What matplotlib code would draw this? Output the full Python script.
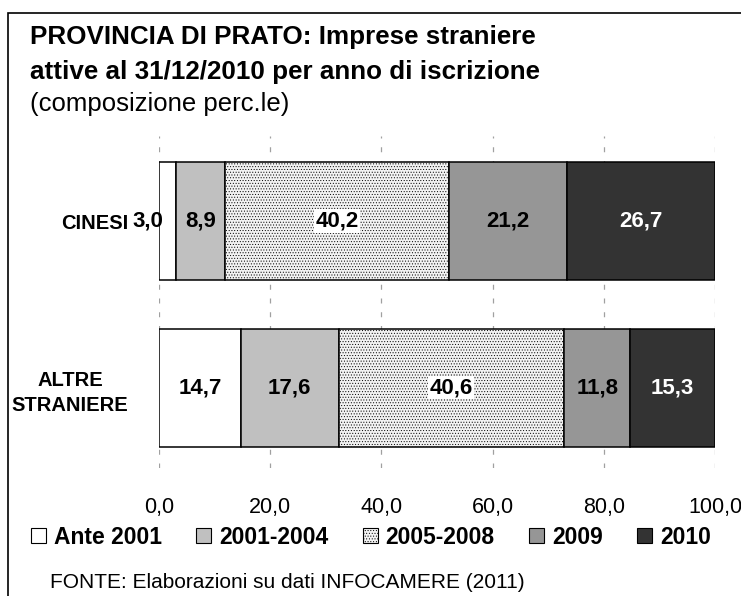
import matplotlib
matplotlib.use("Agg")
import matplotlib.pyplot as plt
from matplotlib.patches import Rectangle, Patch
import numpy as np

plt.rcParams['font.family'] = ['Liberation Sans', 'DejaVu Sans']
plt.rcParams['hatch.color'] = '#c4c4c4'
plt.rcParams['hatch.linewidth'] = 0.4

categories = ["CINESI", "ALTRE\nSTRANIERE"]
series_names = ["Ante 2001", "2001-2004", "2005-2008", "2009", "2010"]
cinesi = [3.0, 8.9, 40.2, 21.2, 26.7]
altre = [14.7, 17.6, 40.6, 11.8, 15.3]
xticks = [0, 20, 40, 60, 80, 100]
xtick_labels = ["0,0", "20,0", "40,0", "60,0", "80,0", "100,0"]

colors = ["#FFFFFF", "#C0C0C0", "#F2F2F2", "#969696", "#333333"]
hatches = [None, None, "......", None, None]
text_colors = ["black", "black", "black", "black", "white"]

W, H = 741, 596
fig = plt.figure(figsize=(W / 100, H / 100), dpi=100)
ax = fig.add_axes([159 / W, (H - 468) / H, 556 / W, 332 / H])

values = np.array([cinesi, altre])
ypos = np.arange(len(categories))
left = np.zeros(len(categories))
bar_h = 0.709
for i, name in enumerate(series_names):
    bars = ax.barh(ypos, values[:, i], left=left, height=bar_h, color=colors[i],
                   edgecolor="black", linewidth=1.1, hatch=hatches[i], label=name, zorder=3)
    for j, b in enumerate(bars):
        v = values[j, i]
        cx = left[j] + v / 2
        lbl = f"{v:.1f}".replace(".", ",")
        bbox = dict(facecolor="white", edgecolor="none", pad=1) if i == 2 else None
        if v < 5:
            ax.annotate(lbl, (left[j], ypos[j]), xytext=(4, 0), textcoords="offset pixels",
                        ha="right", va="center", fontsize=16, fontweight="bold",
                        color=text_colors[i], zorder=5)
        else:
            ax.text(cx, ypos[j], lbl, ha="center", va="center", fontsize=16,
                    fontweight="bold", color=text_colors[i], bbox=bbox, zorder=5)
    left = left + values[:, i]

ax.set_xlim(0, 100)
ax.set_ylim(1.483, -0.511)
ax.set_xticks(xticks)
ax.set_xticklabels(xtick_labels, fontsize=15.5)
ax.set_yticks(ypos)
ax.set_yticklabels(categories, fontsize=14.5, fontweight="bold", multialignment="center",
                   linespacing=1.45)
ax.tick_params(axis="x", length=0, pad=21)
ax.tick_params(axis="y", length=0, pad=22)
for s in ax.spines.values():
    s.set_visible(False)
ax.grid(axis="x", color="#A0A0A0", linestyle=(0, (4, 7)), linewidth=0.9, zorder=0)
ax.set_axisbelow(True)

# outer frame
fig.patches.append(Rectangle((8 / W, -0.5), 1.2, 1.5 - 13 / H, transform=fig.transFigure,
                             fill=False, edgecolor="black", linewidth=1.2))

fig.text(30 / W, 1 - 37 / H, "PROVINCIA DI PRATO: Imprese straniere", fontsize=18.7,
         fontweight="bold", va="center", ha="left")
fig.text(30 / W, 1 - 72 / H, "attive al 31/12/2010 per anno di iscrizione", fontsize=18.7,
         fontweight="bold", va="center", ha="left")
fig.text(30 / W, 1 - 104 / H, "(composizione perc.le)", fontsize=18.5, va="center", ha="left")

handles = [Patch(facecolor=colors[i], edgecolor="black", hatch=hatches[i], linewidth=0.8)
           for i in range(len(series_names))]
fig.legend(handles, series_names, loc="center", bbox_to_anchor=(371 / W, 1 - 537 / H),
           ncol=5, frameon=False, prop=dict(size=16.5, weight="bold"), handlelength=0.65,
           handleheight=0.65, handletextpad=0.35, columnspacing=1.5, borderpad=0,
           borderaxespad=0)

fig.text(50 / W, 1 - 582 / H, "FONTE: Elaborazioni su dati INFOCAMERE (2011)", fontsize=15,
         va="center", ha="left")

fig.savefig("out.png", dpi=100)
